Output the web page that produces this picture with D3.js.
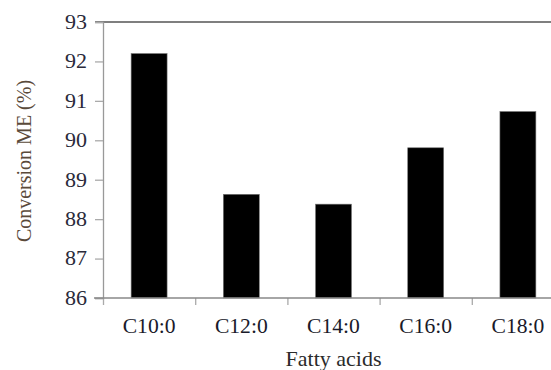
<!DOCTYPE html>
<html><head><meta charset="utf-8">
<script src="https://cdn.jsdelivr.net/npm/d3@7"></script>
<style>body{margin:0;background:#fff}svg{display:block}</style>
</head><body><svg id="c" width="551" height="370"></svg>
<script>
const categories = ["C10:0","C12:0","C14:0","C16:0","C18:0"];
const values = [92.2, 88.63, 88.38, 89.81, 90.73];
const yTicks = [86,87,88,89,90,91,92,93];

const FONT = "Liberation Serif";
const svg = d3.select("#c").attr("font-family", FONT);
const pL = 103, pT = 22, pB = 298, pR = 564;
const x = d3.scaleBand().domain(categories).range([pL, pR]).paddingInner(0.61).paddingOuter(0.305);
const y = d3.scaleLinear().domain([86,93]).range([pB, pT]);

// top line
svg.append("line").attr("x1",95).attr("x2",551).attr("y1",pT).attr("y2",pT).attr("stroke","#555").attr("stroke-width",1.3);

// bars
svg.selectAll("rect.bar").data(values).join("rect").attr("class","bar")
  .attr("x",(d,i)=>x(categories[i])).attr("width",x.bandwidth())
  .attr("y",d=>y(d)).attr("height",d=>pB-y(d))
  .attr("fill","#000").attr("stroke","#777").attr("stroke-width",0.6);

// y axis
const ya = svg.append("g").attr("transform",`translate(${pL},0)`)
  .call(d3.axisLeft(y).tickValues(yTicks).tickSize(8).tickPadding(0).tickFormat(d3.format("d")));
ya.attr("font-family", FONT).attr("font-size", 20);
ya.select(".domain").attr("stroke","#999").attr("stroke-width",1.3);
ya.selectAll(".tick line").attr("stroke","#aaa").attr("stroke-width",1.3);
ya.selectAll(".tick text").attr("x",null).attr("fill","#2a2a3a").attr("font-family",FONT)
  .attr("transform","translate(-16,0) scale(1.1,1)");

// x axis
const xb = d3.scaleLinear().domain([0,5]).range([pL,pR]);
const xa = svg.append("g").attr("transform",`translate(0,${pB})`)
  .call(d3.axisBottom(xb).tickValues([0,1,2,3,4,5]).tickSize(7).tickFormat(""));
xa.select(".domain").remove();
xa.selectAll(".tick line").attr("stroke","#aaa").attr("stroke-width",1.3);
svg.append("line").attr("x1",94).attr("x2",551).attr("y1",pB).attr("y2",pB).attr("stroke","#888").attr("stroke-width",1.3);

svg.selectAll("text.xl").data(categories).join("text").attr("class","xl")
  .attr("transform",d=>`translate(${x(d)+x.bandwidth()/2},333) scale(1.08,1)`).attr("text-anchor","middle")
  .attr("font-size",20).attr("font-family",FONT).attr("fill","#1a1a2a").text(d=>d);

svg.append("text").attr("transform",`translate(${x("C14:0")+x.bandwidth()/2},366) scale(1.1,1)`).attr("text-anchor","middle")
  .attr("font-size",20).attr("font-family",FONT).attr("fill","#2a2a2a").text("Fatty acids");

svg.append("text").attr("transform","translate(31,161) rotate(-90)").attr("text-anchor","middle")
  .attr("font-size",20).attr("font-family",FONT).attr("fill","#5a4a3a").text("Conversion ME (%)");
</script></body></html>
